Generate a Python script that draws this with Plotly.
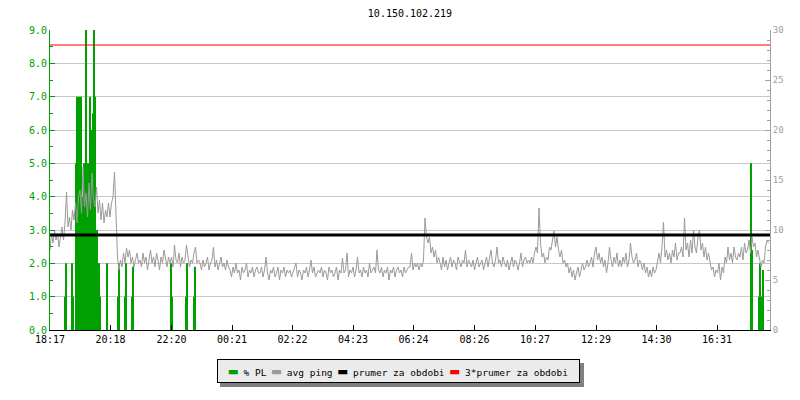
import pandas as pd
import plotly.graph_objects as go

# Host / period
title_text = "10.150.102.219"
start = pd.Timestamp("2024-05-20 18:17")
ping_step_min = 3

# avg ping (ms), one value per 3 minutes, two rows per hour from 18:17
ping_ms = [
    8.0, 9.7, 8.7, 10.0, 9.0, 9.7, 8.3, 9.3, 10.3, 9.0,
    10.7, 13.8, 10.3, 11.3, 10.0, 12.0, 11.0, 12.7, 10.7, 13.3,
    14.0, 11.7, 16.3, 12.3, 13.7, 11.3, 14.7, 12.0, 15.7, 13.0,
    12.3, 14.3, 11.7, 13.0, 11.0, 12.7, 10.7, 12.0, 11.3, 12.7,
    11.3, 12.7, 13.3, 15.8, 12.0, 7.3, 6.0, 7.0, 6.3, 7.7,
    6.7, 8.2, 7.3, 8.0, 6.7, 7.3, 6.3, 7.0, 7.7, 6.7,
    7.0, 6.3, 7.7, 6.7, 7.3, 6.0, 7.0, 8.0, 6.7, 7.3,
    6.3, 7.7, 7.0, 6.0, 7.3, 6.7, 8.0, 7.0, 6.3, 7.3,
    6.7, 7.3, 6.3, 8.5, 7.0, 6.7, 7.7, 6.3, 7.3, 6.7,
    7.0, 8.5, 7.3, 6.3, 7.0, 6.7, 7.7, 8.3, 6.7, 7.0,
    6.7, 6.0, 7.0, 6.3, 6.7, 7.3, 6.0, 6.7, 7.0, 8.3,
    6.3, 7.0, 6.0, 6.7, 7.3, 6.3, 6.7, 6.0, 7.0, 6.3,
    6.0, 5.3, 6.3, 5.7, 6.7, 5.7, 6.0, 5.0, 6.3, 5.7,
    6.0, 6.7, 5.3, 6.0, 5.7, 6.3, 5.3, 6.0, 6.3, 5.7,
    5.7, 6.3, 5.3, 6.0, 7.3, 5.7, 5.0, 6.0, 5.7, 6.3,
    5.3, 5.7, 6.3, 5.0, 6.0, 5.7, 6.3, 5.3, 6.0, 5.7,
    6.0, 5.3, 5.7, 6.3, 6.7, 5.3, 6.0, 5.7, 5.0, 6.0,
    5.7, 6.3, 5.3, 6.0, 7.0, 5.7, 6.3, 5.3, 5.7, 6.0,
    5.7, 6.3, 5.3, 6.0, 5.7, 5.0, 6.3, 5.7, 6.0, 5.3,
    5.7, 6.3, 5.0, 6.0, 5.7, 7.2, 5.7, 6.0, 7.7, 5.3,
    6.0, 5.7, 6.3, 5.3, 6.0, 7.3, 5.7, 6.0, 5.3, 6.3,
    5.7, 6.0, 5.3, 6.7, 5.7, 6.0, 6.3, 5.7, 8.0, 6.0,
    5.7, 6.3, 5.3, 6.0, 5.7, 6.3, 5.0, 6.0, 5.7, 6.3,
    5.3, 6.0, 6.3, 5.7, 6.0, 5.3, 6.3, 5.7, 6.0, 6.3,
    6.3, 7.7, 6.0, 6.7, 6.3, 6.7, 6.0, 6.7, 6.3, 7.0,
    11.2, 9.3, 8.7, 9.3, 7.7, 8.3, 7.3, 8.0, 6.7, 7.3,
    6.7, 6.0, 7.3, 6.3, 7.0, 6.0, 6.7, 7.3, 6.3, 7.0,
    6.7, 6.0, 7.3, 6.7, 6.3, 7.0, 6.7, 8.0, 6.3, 7.0,
    6.7, 6.3, 7.0, 6.0, 6.7, 7.3, 6.3, 6.7, 7.0, 6.0,
    6.7, 7.3, 6.3, 7.0, 8.0, 6.7, 6.3, 7.0, 8.3, 6.7,
    7.0, 6.3, 7.3, 6.7, 6.3, 7.0, 6.0, 6.7, 7.3, 6.3,
    7.0, 6.7, 6.0, 6.7, 7.7, 6.3, 7.0, 7.3, 6.7, 7.0,
    6.7, 7.3, 6.7, 7.7, 8.3, 7.7, 12.2, 8.7, 7.3, 7.7,
    6.7, 7.3, 7.0, 8.3, 8.0, 9.0, 9.9, 8.3, 9.3, 8.0,
    7.3, 8.0, 6.7, 7.0, 6.3, 6.7, 5.7, 6.3, 5.3, 6.0,
    5.0, 5.7, 6.3, 5.3, 6.0, 6.7, 6.0, 6.3, 7.0, 6.3,
    6.7, 7.3, 6.3, 7.7, 8.3, 7.0, 7.7, 6.7, 7.3, 6.3,
    7.0, 5.7, 6.7, 8.3, 7.0, 6.3, 7.3, 6.7, 7.7, 6.3,
    7.0, 6.3, 7.3, 6.7, 7.7, 6.3, 7.0, 8.7, 7.3, 6.7,
    7.0, 7.7, 6.3, 7.0, 6.7, 6.0, 6.7, 5.7, 6.3, 5.3,
    6.0, 5.3, 6.3, 5.7, 6.0, 6.7, 7.7, 6.7, 8.3, 10.8,
    7.3, 8.0, 7.0, 7.7, 6.7, 8.0, 7.3, 8.7, 7.0, 7.7,
    7.7, 8.3, 7.3, 11.2, 8.0, 8.7, 7.3, 9.0, 7.7, 10.0,
    8.3, 7.7, 9.3, 10.0, 8.0, 8.7, 7.3, 8.3, 7.0, 7.7,
    6.7, 6.0, 6.3, 5.3, 6.0, 5.7, 6.7, 5.0, 6.3, 5.7,
    7.3, 6.7, 8.3, 7.0, 7.7, 6.7, 8.3, 7.3, 7.0, 7.7,
    7.3, 8.3, 7.0, 8.7, 7.7, 8.0, 9.0, 7.7, 9.3, 8.3,
    8.7, 7.3, 8.0, 7.0, 6.3, 7.0, 6.7, 8.3, 9.0, 8.7,
]

# packet loss (%) - only the non-zero samples, minutes after start
pl_minutes = [30, 32, 44, 46,
              52, 54, 56, 58, 60, 62, 64, 66, 68, 70, 72, 74, 76,
              78, 80, 82, 84, 86, 88, 90, 92, 94, 96, 98, 100,
              114, 136, 138, 150, 152, 164, 166, 242, 244, 272, 274, 288, 290,
              1402, 1404, 1418, 1420, 1424, 1426]
pl_percent = [1.0, 2.0, 2.0, 1.0,
              5.0, 7.0, 3.0, 7.0, 4.5, 7.0, 3.5, 4.0, 5.0, 3.0, 9.0, 4.5, 5.0,
              3.5, 7.0, 4.0, 6.0, 6.5, 9.0, 7.0, 3.0, 3.0, 2.0, 2.0, 1.0,
              2.0, 1.0, 2.0, 1.0, 2.0, 1.0, 1.9, 2.0, 1.0, 1.0, 2.0, 1.0, 1.9,
              5.0, 2.4, 1.0, 2.0, 1.0, 1.8]

period_mean_ms = 9.5  # prumer za obdobi

tick_labels = ["18:17", "20:18", "22:20", "00:21", "02:22", "04:23",
               "06:24", "08:26", "10:27", "12:29", "14:30", "16:31"]

legend_names = ["% PL", "avg ping", "prumer za obdobi", "3*prumer za obdobi"]

GREEN = "#00a000"
GRAY = "#9a9a9a"
RED = "#ff0000"
AXGRAY = "#a0a0a0"
legend_colors = [GREEN, GRAY, "#000000", RED]

end = start + pd.Timedelta(days=1)
ping_times = pd.date_range(start, periods=len(ping_ms), freq=f"{ping_step_min}min")
pl_times = start + pd.to_timedelta(pl_minutes, unit="m")

tick_vals = []
for lab in tick_labels:
    t = pd.Timestamp(f"{start.date()} {lab}")
    if t < start:
        t += pd.Timedelta(days=1)
    tick_vals.append(t)

fig = go.Figure()

fig.add_trace(go.Bar(x=pl_times, y=pl_percent, width=120000,
                     marker=dict(color=GREEN, line_width=0), name="% PL"))

fig.add_trace(go.Scatter(x=ping_times, y=ping_ms, yaxis="y2", mode="lines",
                         line=dict(color=GRAY, width=1), name="avg ping"))

fig.add_trace(go.Scatter(x=[start, end], y=[period_mean_ms] * 2, yaxis="y2", mode="lines",
                         line=dict(color="black", width=3), name="prumer za obdobi"))

fig.add_trace(go.Scatter(x=[start, end], y=[3 * period_mean_ms] * 2, yaxis="y2", mode="lines",
                         line=dict(color=RED, width=1.2), name="3*prumer za obdobi"))

# page body has an 8px margin, so the figure sits 8px right/down in the window
fig.update_layout(
    width=800, height=400,
    margin=dict(l=42, r=38, t=22, b=78),
    paper_bgcolor="white", plot_bgcolor="white",
    font=dict(family="DejaVu Sans Mono", size=10, color="black"),
    showlegend=False,
    title=dict(text=title_text, x=0.5, xref="paper", xanchor="center",
               y=1 - 5 / 400, yref="container", yanchor="middle",
               font=dict(size=10, color="black")),
    xaxis=dict(type="date", range=[start, end], tickvals=tick_vals, ticktext=tick_labels,
               ticks="inside", ticklen=5, tickcolor="black", showline=True,
               linecolor="black", linewidth=1, showgrid=False, zeroline=False),
    yaxis=dict(range=[0, 9], dtick=1, tickformat=".1f", tickfont=dict(color=GREEN),
               showline=True, linecolor=GREEN, linewidth=1, ticks="inside", ticklen=5,
               tickcolor=GREEN, gridcolor="#c8c8c8", zeroline=False,
               minor=dict(dtick=0.5, ticks="inside", ticklen=3, tickcolor=GREEN, showgrid=False)),
    yaxis2=dict(overlaying="y", side="right", range=[0, 30], dtick=5,
                tickfont=dict(color=AXGRAY, size=9), showgrid=False, zeroline=False,
                showline=True, linecolor=AXGRAY, linewidth=1, ticks="inside", ticklen=5,
                tickcolor=AXGRAY,
                minor=dict(dtick=1, ticks="inside", ticklen=3, tickcolor=AXGRAY, showgrid=False)),
)

# legend box drawn as text, with a drop shadow (screen px -> paper coords)
def px_x(x):
    return (x - 50) / 720

def px_y(y):
    return (330 - y) / 300

legend_text = " ".join(f'<span style="color:{c};font-size:15px">▬</span> {n}'
                       for n, c in zip(legend_names, legend_colors))
fig.add_shape(type="rect", xref="paper", yref="paper",
              x0=px_x(220), x1=px_x(584), y0=px_y(387), y1=px_y(363),
              fillcolor="#808080", line_width=0)
fig.add_annotation(text=legend_text, xref="paper", yref="paper",
                   x=px_x(398.5), y=px_y(359),
                   xanchor="center", yanchor="top", showarrow=False,
                   width=355, height=16, align="center",
                   font=dict(size=9.5, color="black"),
                   bgcolor="#ebebeb", bordercolor="black", borderwidth=1, borderpad=3)

fig.write_html("out.html")
